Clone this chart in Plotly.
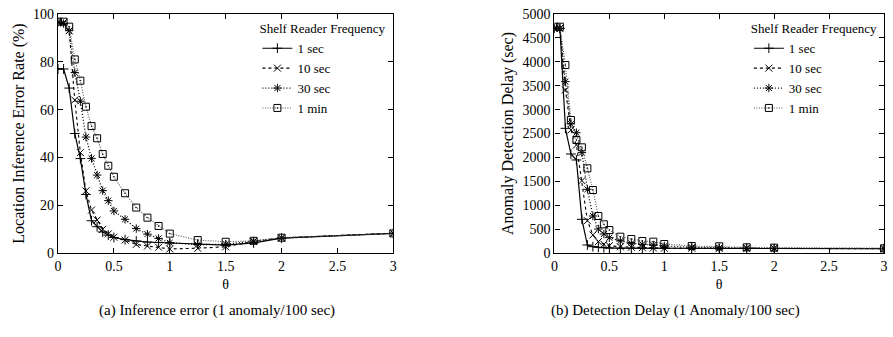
import plotly.graph_objects as go

theta = [0, 0.05, 0.1, 0.15, 0.2, 0.25, 0.3, 0.35, 0.4, 0.45, 0.5, 0.6, 0.7, 0.8, 0.9, 1.0, 1.25, 1.5, 1.75, 2.0, 3.0]
series_names = ["1 sec", "10 sec", "30 sec", "1 min"]

# (a) Location inference error rate (%)
err_1s = [77, 77, 69, 50, 39.5, 24.5, 13.5, 11, 8.8, 7.5, 6.5, 5.6, 5.0, 4.6, 4.4, 4.2, 3.6, 3.3, 4.2, 6.2, 8.2]
err_10s = [96.5, 96.5, 93, 64, 42, 26, 18, 13.8, 9.9, 8, 6.6, 5.4, 3.6, 2.9, 2.4, 1.7, 2.0, 2.6, 4.8, 6.3, 8.3]
err_30s = [96.5, 96, 93, 75.5, 63.5, 48.5, 39.6, 32.6, 26.1, 21.9, 17.6, 14.1, 10.2, 7.9, 6.1, 4.3, 3.5, 3.7, 5.0, 6.3, 8.2]
err_1m = [96.8, 96.8, 94.7, 81, 72.1, 61.2, 53.1, 48, 41.4, 36.5, 31.9, 25, 19, 14.8, 11.3, 8.1, 5.4, 4.7, 5.1, 6.4, 8.2]

# (b) Anomaly detection delay (sec)
del_1s = [4700, 4700, 2608, 2071, 1946, 705, 167, 132, 120, 110, 105, 100, 100, 98, 97, 96, 95, 94, 93, 92, 90]
del_10s = [4700, 4700, 3410, 2573, 2259, 1513, 676, 377, 237, 182, 153, 130, 120, 110, 105, 100, 100, 95, 95, 95, 90]
del_30s = [4700, 4700, 3585, 2700, 2517, 2100, 1332, 774, 502, 397, 320, 251, 203, 182, 167, 146, 120, 110, 105, 100, 95]
del_1m = [4734, 4734, 3933, 2782, 2364, 2211, 1772, 1318, 774, 600, 481, 341, 293, 251, 237, 188, 146, 140, 119, 112, 98]

err_series = [err_1s, err_10s, err_30s, err_1m]
del_series = [del_1s, del_10s, del_30s, del_1m]

styles = [
    dict(dash="solid", color="black", symbol="cross-thin", width=1.2),
    dict(dash="3px,3px", color="black", symbol="x-thin", width=1.1),
    dict(dash="1px,2px", color="black", symbol="asterisk", width=1.3),
    dict(dash="1px,1.5px", color="#555555", symbol="square-open-dot", width=1.1),
]

FONT = "Liberation Serif"
fig = go.Figure()

for i, (name, ys) in enumerate(zip(series_names, err_series)):
    s = styles[i]
    fig.add_trace(go.Scatter(
        x=theta, y=ys, name=name, mode="lines+markers",
        line=dict(color=s["color"], dash=s["dash"], width=s["width"]),
        marker=dict(symbol=s["symbol"], size=7, color="black",
                    line=dict(color="black", width=1)),
        xaxis="x", yaxis="y", legend="legend",
    ))

for i, (name, ys) in enumerate(zip(series_names, del_series)):
    s = styles[i]
    fig.add_trace(go.Scatter(
        x=theta, y=ys, name=name, mode="lines+markers",
        line=dict(color=s["color"], dash=s["dash"], width=s["width"]),
        marker=dict(symbol=s["symbol"], size=7, color="black",
                    line=dict(color="black", width=1)),
        xaxis="x2", yaxis="y2", legend="legend2",
    ))

axis_common = dict(
    showgrid=False, zeroline=False, showline=True, linecolor="black", linewidth=1.2,
    mirror="ticks", ticks="inside", ticklen=5, tickcolor="black",
    tickfont=dict(family=FONT, size=14, color="black"),
)

legend_common = dict(
    xanchor="right", yanchor="top", bgcolor="rgba(0,0,0,0)",
    font=dict(family=FONT, size=13, color="black"),
    title=dict(text="Shelf Reader Frequency", font=dict(family=FONT, size=13, color="black"), side="top"),
    tracegroupgap=0, itemwidth=30,
)

fig.update_layout(
    width=893, height=337,
    margin=dict(l=58, r=5, t=14, b=84),
    paper_bgcolor="white", plot_bgcolor="white",
    font=dict(family=FONT, size=14, color="black"),
    xaxis=dict(domain=[0, 0.406], range=[0, 3], dtick=0.5, anchor="y",
               title=dict(text="θ", font=dict(family=FONT, size=14), standoff=6), **axis_common),
    yaxis=dict(domain=[0, 1], range=[0, 100], dtick=20, anchor="x",
               title=dict(text="Location Inference Error Rate (%)", font=dict(family=FONT, size=16), standoff=4),
               **axis_common),
    xaxis2=dict(domain=[0.601, 1], range=[0, 3], dtick=0.5, anchor="y2",
                title=dict(text="θ", font=dict(family=FONT, size=14), standoff=6), **axis_common),
    yaxis2=dict(domain=[0, 1], range=[0, 5000], dtick=500, anchor="x2",
                title=dict(text="Anomaly Detection Delay (sec)", font=dict(family=FONT, size=16), standoff=4),
                **axis_common),
    legend=dict(x=0.40, y=0.99, **legend_common),
    legend2=dict(x=0.995, y=0.99, **legend_common),
    annotations=[
        dict(text="(a) Inference error (1 anomaly/100 sec)", xref="paper", yref="paper",
             x=0.192, y=-0.195, showarrow=False, yanchor="top", xanchor="center",
             font=dict(family=FONT, size=15, color="black")),
        dict(text="(b) Detection Delay (1 Anomaly/100 sec)", xref="paper", yref="paper",
             x=0.747, y=-0.195, showarrow=False, yanchor="top", xanchor="center",
             font=dict(family=FONT, size=15, color="black")),
    ],
)

fig.write_html("out.html")
